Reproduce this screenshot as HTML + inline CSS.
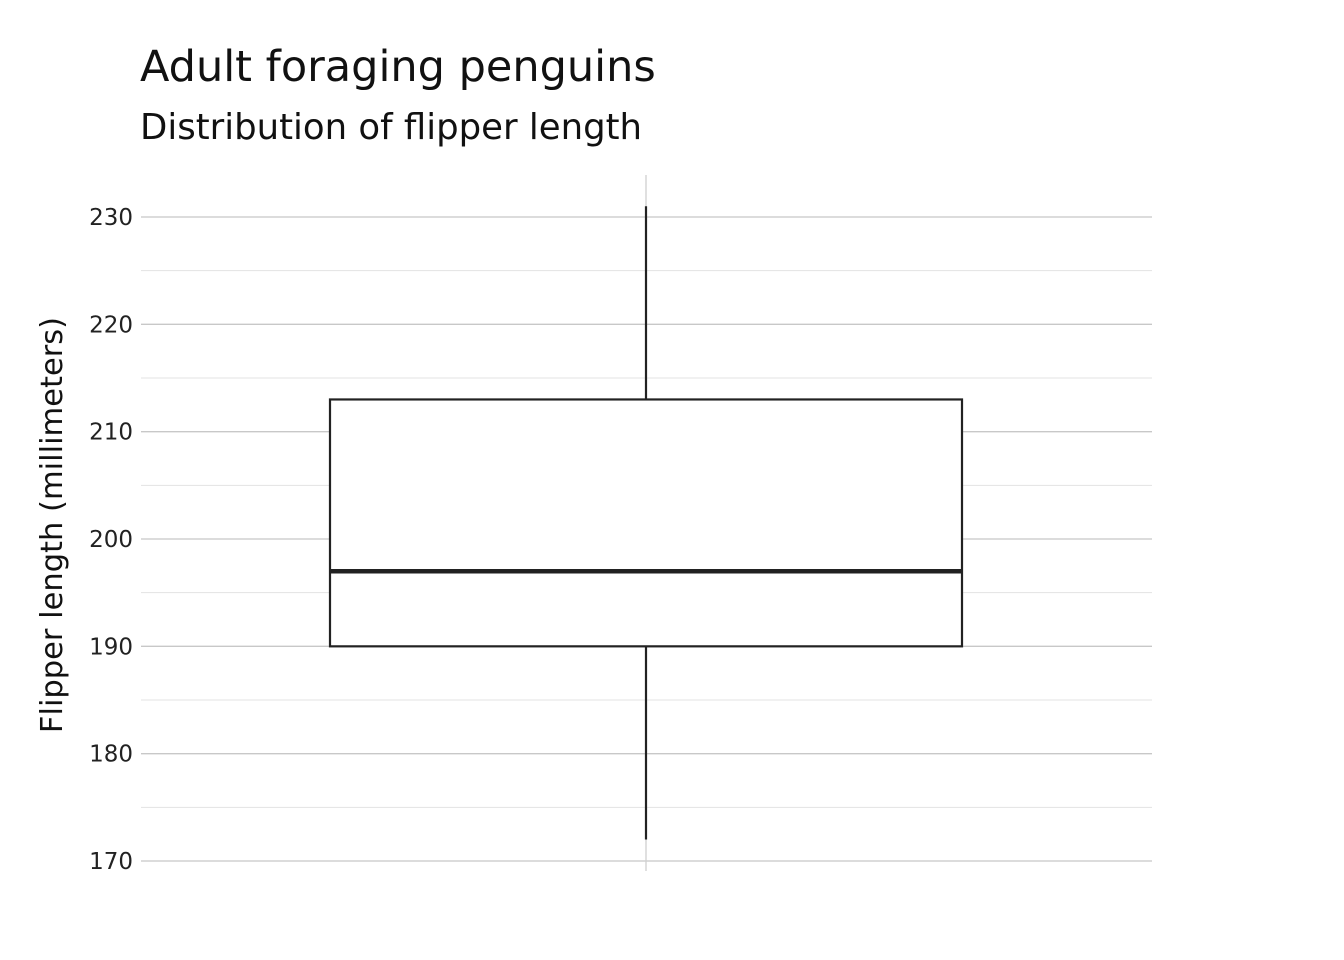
<!DOCTYPE html>
<html><head><meta charset="utf-8"><style>
html,body{margin:0;padding:0;background:#fff;}
svg{display:block;font-family:"DejaVu Sans","Liberation Sans",sans-serif;}
</style></head><body>
<svg id="chart" width="1344" height="960" viewBox="0 0 1344 960">
<text x="140" y="81" font-size="43" fill="#111">Adult foraging penguins</text>
<text x="140" y="139" font-size="35.5" fill="#111">Distribution of flipper length</text>
<text transform="translate(62,525) rotate(-90)" text-anchor="middle" font-size="30.5" fill="#111">Flipper length (millimeters)</text>
<g id="grid"></g><g id="marks"></g>
</svg>
<script>
const ticks=[170,180,190,200,210,220,230];
const minorTicks=[175,185,195,205,215,225];
const stats=[172,190,197,213,231]; // min,q1,median,q3,max
const NS="http://www.w3.org/2000/svg";
const y=v=>861-(v-170)*(861-217)/60;
const x0=141,x1=1152,xc=646,bx0=330,bx1=962;
function mk(t,a,p){const e=document.createElementNS(NS,t);for(const k in a)e.setAttribute(k,a[k]);p.appendChild(e);return e;}
const g=document.getElementById('grid'),m=document.getElementById('marks');
minorTicks.forEach(v=>{const l=mk('line',{x1:x0,x2:x1,y1:y(v),y2:y(v),stroke:'#e3e3e3','stroke-width':1},g);

});
ticks.forEach(v=>{const l=mk('line',{x1:x0,x2:x1,y1:y(v),y2:y(v),stroke:'#c8c8c8','stroke-width':1.3},g);


const t=mk('text',{x:133,y:y(v)+8,'text-anchor':'end','font-size':23,fill:'#222'},g);t.textContent=v;

});
const vg=mk('line',{x1:xc,x2:xc,y1:175,y2:871,stroke:'#d0d0d0','stroke-width':1.3},g);


const w1=mk('line',{x1:xc,x2:xc,y1:y(stats[4]),y2:y(stats[3]),stroke:'#222','stroke-width':2.2},m);


const w2=mk('line',{x1:xc,x2:xc,y1:y(stats[1]),y2:y(stats[0]),stroke:'#222','stroke-width':2.2},m);


const b=mk('rect',{x:bx0,y:y(stats[3]),width:bx1-bx0,height:y(stats[1])-y(stats[3]),fill:'#fff',stroke:'#222','stroke-width':2.2},m);


const md=mk('line',{x1:bx0,x2:bx1,y1:y(stats[2]),y2:y(stats[2]),stroke:'#222','stroke-width':4.5},m);


</script>
</body></html>
